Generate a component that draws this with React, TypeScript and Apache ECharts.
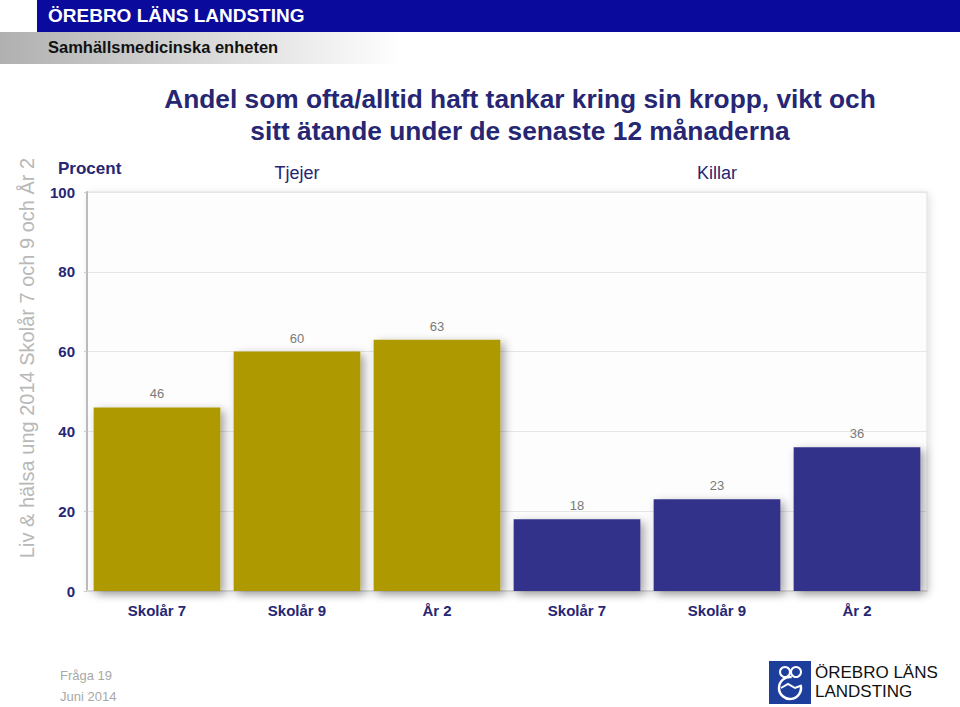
import React, { useEffect, useRef } from "react";
import * as echarts from "echarts";

const categories = ["Skolår 7", "Skolår 9", "År 2", "Skolår 7", "Skolår 9", "År 2"];
const values = [46, 60, 63, 18, 23, 36];
const groupOf = [0, 0, 0, 1, 1, 1];
const groups = ["Tjejer", "Killar"];
const groupColors = ["#AE9905", "#32338A"];
const yTicks = [0, 20, 40, 60, 80, 100];

const NARROW = '"Liberation Sans Narrow", "Arial Narrow", "Liberation Sans", Arial, sans-serif';
const SANS = '"Liberation Sans", Arial, Helvetica, sans-serif';
const NAVY = "#262673";

export default function App() {
  const ref = useRef<HTMLDivElement>(null);
  useEffect(() => {
    if (!ref.current) return;
    const chart = echarts.init(ref.current, null, { renderer: "svg" });
    const gridLeft = 87;
    const gridRight = 33;
    const plotW = 960 - gridLeft - gridRight;
    const catW = plotW / categories.length;
    const groupCenters = groups.map((_, g) => {
      const idx = groupOf.map((v, i) => (v === g ? i : -1)).filter((i) => i >= 0);
      const mid = (idx[0] + idx[idx.length - 1] + 1) / 2;
      return gridLeft + mid * catW;
    });
    chart.setOption({
      animation: false,
      backgroundColor: "#ffffff",
      grid: {
        left: gridLeft,
        right: gridRight,
        top: 192,
        bottom: 116,
        show: true,
        borderColor: "#dddddd",
        borderWidth: 1,
        backgroundColor: "#fdfdfd",
        shadowColor: "rgba(0,0,0,0.12)",
        shadowBlur: 8,
        shadowOffsetX: 2,
        shadowOffsetY: 2,
      },
      xAxis: {
        type: "category",
        data: categories,
        axisLine: { show: true, lineStyle: { color: "#d8d8d8", width: 2 } },
        axisTick: { show: false },
        axisLabel: {
          color: NAVY,
          fontFamily: NARROW,
          fontWeight: "bold",
          fontSize: 15,
          margin: 12,
        },
      },
      yAxis: {
        type: "value",
        min: 0,
        max: 100,
        interval: 20,
        axisLine: { show: true, lineStyle: { color: "#bbbbbb", width: 2 } },
        axisTick: { show: true, length: 3, lineStyle: { color: "#cccccc" } },
        splitLine: { show: true, lineStyle: { color: "#e6e6e6", width: 1 } },
        axisLabel: {
          color: NAVY,
          fontFamily: NARROW,
          fontWeight: "bold",
          fontSize: 15,
          margin: 12,
          formatter: (v: number) => (yTicks.includes(v) ? String(v) : ""),
        },
      },
      series: [
        {
          type: "bar",
          barCategoryGap: "9.5%",
          data: values.map((v, i) => ({
            value: v,
            itemStyle: {
              color: groupColors[groupOf[i]],
              shadowColor: "rgba(0,0,0,0.35)",
              shadowBlur: 10,
              shadowOffsetX: 4,
              shadowOffsetY: 3,
            },
          })),
          label: {
            show: true,
            position: "top",
            distance: 7,
            color: "#7a7a7a",
            fontFamily: NARROW,
            fontSize: 13,
          },
        },
      ],
      graphic: [
        // header blue bar
        { type: "rect", left: 37, top: 0, shape: { width: 923, height: 32 }, style: { fill: "#0A0A9C" } },
        {
          type: "rect",
          left: 0,
          top: 32,
          shape: { width: 960, height: 32 },
          style: {
            fill: new echarts.graphic.LinearGradient(0, 0, 1, 0, [
              { offset: 0, color: "#b0b0b0" },
              { offset: 0.42, color: "#ffffff" },
              { offset: 1, color: "#ffffff" },
            ]),
          },
        },
        {
          type: "text",
          left: 48,
          top: 6,
          style: { text: "ÖREBRO LÄNS LANDSTING", fill: "#ffffff", font: `bold 19px ${SANS}` },
        },
        {
          type: "text",
          left: 48,
          top: 38,
          style: { text: "Samhällsmedicinska enheten", fill: "#111111", font: `bold 16.5px ${SANS}` },
        },
        // title
        {
          type: "text",
          x: 520,
          y: 83,
          style: {
            text: "Andel som ofta/alltid haft tankar kring sin kropp, vikt och\nsitt ätande under de senaste 12 månaderna",
            fill: NAVY,
            font: `bold 26.3px ${NARROW}`,
            align: "center",
            lineHeight: 32,
          },
        },
        // side text
        {
          type: "text",
          x: 27,
          y: 358,
          rotation: Math.PI / 2,
          style: {
            text: "Liv & hälsa ung 2014 Skolår 7 och 9 och År 2",
            fill: "#b8b8b8",
            font: `20px ${SANS}`,
            align: "center",
            verticalAlign: "middle",
          },
        },
        {
          type: "text",
          left: 58,
          top: 160,
          style: { text: "Procent", fill: NAVY, font: `bold 17px ${SANS}` },
        },
        ...groups.map((g, i) => ({
          type: "text",
          x: groupCenters[i],
          y: 173,
          style: {
            text: g,
            fill: NAVY,
            font: `18px ${SANS}`,
            align: "center",
            verticalAlign: "middle",
          },
        })),
        // footer
        {
          type: "text",
          left: 60,
          top: 669,
          style: { text: "Fråga 19", fill: "#a8a8a8", font: `13px ${SANS}` },
        },
        {
          type: "text",
          left: 60,
          top: 690,
          style: { text: "Juni 2014", fill: "#a8a8a8", font: `13px ${SANS}` },
        },
        // logo
        {
          type: "group",
          left: 769,
          top: 661,
          children: [
            { type: "rect", shape: { x: 0, y: 0, width: 42, height: 43 }, style: { fill: "#1E3E9C" } },
            { type: "circle", shape: { cx: 16, cy: 11, r: 5 }, style: { fill: "none", stroke: "#ffffff", lineWidth: 2 } },
            { type: "circle", shape: { cx: 27, cy: 11, r: 5 }, style: { fill: "none", stroke: "#ffffff", lineWidth: 2 } },
            { type: "arc", shape: { cx: 21, cy: 27, r: 11, startAngle: -0.3, endAngle: Math.PI * 1.55 }, style: { fill: "none", stroke: "#ffffff", lineWidth: 2.5 } },
            { type: "polyline", shape: { points: [[12, 27], [19, 23], [26, 27], [31, 25]] }, style: { fill: "none", stroke: "#ffffff", lineWidth: 2 } },
          ],
        },
        {
          type: "text",
          left: 815,
          top: 664,
          style: { text: "ÖREBRO LÄNS", fill: "#111111", font: `17px ${NARROW}` },
        },
        {
          type: "text",
          left: 815,
          top: 683,
          style: { text: "LANDSTING", fill: "#111111", font: `17px ${NARROW}` },
        },
      ],
    });
    return () => chart.dispose();
  }, []);
  return (
    <div
      ref={ref}
      style={{ position: "fixed", left: 0, top: 0, width: 960, height: 707 }}
    />
  );
}
